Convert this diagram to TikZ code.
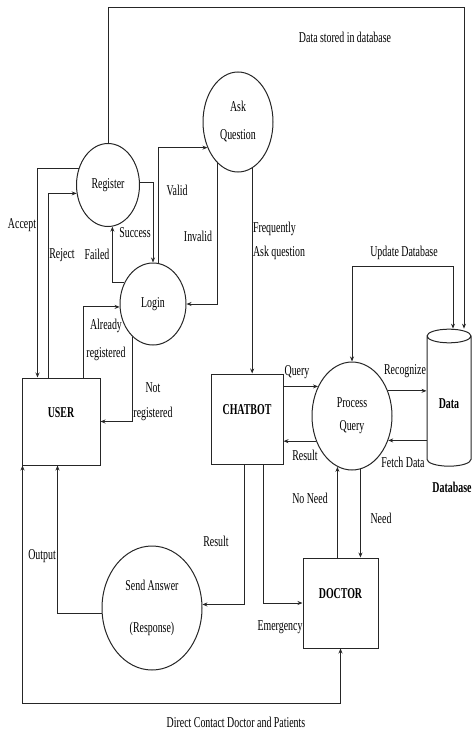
\documentclass[tikz,border=0pt]{standalone}
\usepackage{fontspec}
\setmainfont{Liberation Serif}[FakeStretch=0.66]
\usetikzlibrary{arrows.meta,shapes.geometric}

\begin{document}
\fontsize{15}{17}\selectfont
\begin{tikzpicture}[x=1pt,y=-1pt,line width=1pt,
  proc/.style={ellipse,draw=black!85,inner sep=0pt,align=center},
  ent/.style={rectangle,draw=black!85,font=\bfseries,text height=9pt,text depth=18pt},
  lbl/.style={inner sep=1pt,align=center},
  flow/.style={-{Stealth[length=5pt,width=4pt]},black!85},
  flow2/.style={{Stealth[length=5pt,width=4pt]}-{Stealth[length=5pt,width=4pt]},black!85}]
\useasboundingbox (0,0) rectangle (472,733);

% processes
\node[proc,minimum width=63pt,minimum height=83pt] (reg) at (108,185) {Register};
\node[proc,minimum width=70pt,minimum height=100pt] (ask) at (238,122) {Ask\\[11pt]Question};
\node[proc,minimum width=66pt,minimum height=82pt] (login) at (153,304) {Login};
\node[proc,minimum width=80pt,minimum height=108pt] (pq) at (352,416) {Process\\[6pt]Query};
\node[proc,minimum width=100pt,minimum height=124pt] (send) at (152,608) {Send Answer\\[25pt](Response)};

% entities
\node[ent,minimum width=78pt,minimum height=87pt] (user) at (61,421.5) {USER};
\node[ent,minimum width=72pt,minimum height=90pt] (chat) at (247,419) {CHATBOT};
\node[ent,minimum width=75pt,minimum height=90pt] (doc) at (340.5,603) {DOCTOR};

% data store
\node[cylinder,shape border rotate=90,draw=black!85,aspect=0.45,
      minimum width=44pt,minimum height=137pt,font=\bfseries] (data) at (449,403.5) {Data};
\node[lbl,font=\bfseries] (dbname) at (452,487) {Database};

\coordinate (topy) at (0,8);
\coordinate (upy) at (0,266);
\coordinate (boty) at (0,703);

% connectors
\draw[flow] (reg.north) -- (reg.north |- topy) -| ([xshift=15pt]data.north);
\draw[flow2] (pq.north) -- (pq.north |- upy) -| ([xshift=4pt]data.north);
\draw[flow] (reg.151) -| ([xshift=16pt]user.north west);
\draw[flow] ([xshift=27pt]user.north west) |- (reg.195);
\draw[flow] (reg.4) -| (login.north);
\draw[flow] (login.143) -| (reg.276);
\draw[flow] (login.83) |- (ask.220);
\draw[flow] (ask.244) |- (login.east);
\draw[flow] (ask.287) -- (ask.287 |- chat.north);
\draw[flow] ([xshift=62pt]user.north west) |- (login.185);
\draw[flow] (login.238) |- (user.east);
\draw[flow] (pq.139 -| chat.east) -- (pq.139);
\draw[flow] (pq.215) -- (pq.215 -| chat.east);
\draw[flow] (pq.35) -- (pq.35 -| data.west);
\draw[flow] (pq.326 -| data.west) -- (pq.326);
\draw[flow] (pq.254 |- doc.north) -- (pq.254);
\draw[flow] (pq.279) -- (pq.279 |- doc.north);
\draw[flow] ([xshift=-3pt]chat.south) |- (send.4);
\draw[flow] ([xshift=16pt]chat.south) |- (doc.west);
\draw[flow] (send.186) -| ([xshift=36pt]user.south west);
\draw[flow2] (doc.south) -- (doc.south |- boty) -| ([xshift=1pt]user.south west);

% labels
\node[lbl] (l1) at (345,37) {Data stored in database};
\node[lbl] (l2) at (404,253) {Update Database};
\node[lbl] (l3) at (22,225) {Accept};
\node[lbl] (l4) at (62,255) {Reject};
\node[lbl] (l5) at (135,233) {Success};
\node[lbl] (l6) at (97,254) {Failed};
\node[lbl] (l7) at (177,190) {Valid};
\node[lbl] (l8) at (198,236) {Invalid};
\node[lbl,align=left] (l9) at (279,241) {Frequently\\[7pt]Ask question};
\node[lbl] (l10) at (106,340) {Already\\[11pt]registered};
\node[lbl] (l11) at (153,402) {Not\\[8pt]registered};
\node[lbl] (l12) at (297,372) {Query};
\node[lbl] (l13) at (305,455) {Result};
\node[lbl] (l14) at (405,371) {Recognize};
\node[lbl] (l15) at (403,462) {Fetch Data};
\node[lbl] (l16) at (310,498) {No Need};
\node[lbl] (l17) at (381,518) {Need};
\node[lbl] (l18) at (216,541) {Result};
\node[lbl] (l19) at (280,627) {Emergency};
\node[lbl] (l20) at (42,556) {Output};
\node[lbl] (l21) at (236,722) {Direct Contact Doctor and Patients};
\end{tikzpicture}
\end{document}
